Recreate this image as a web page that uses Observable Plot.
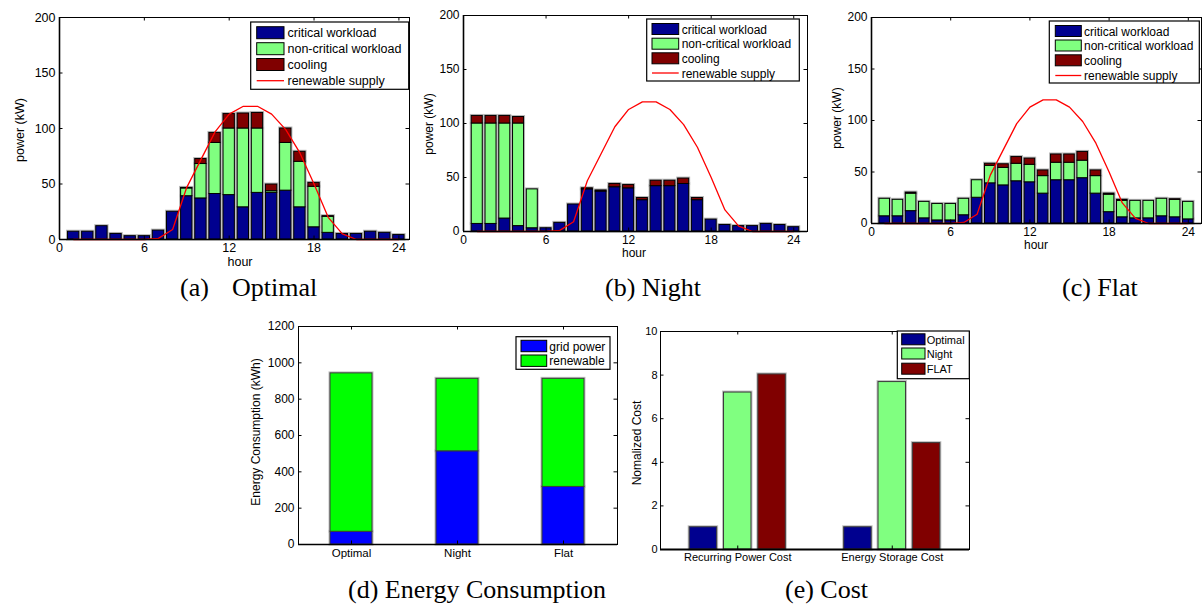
<!DOCTYPE html>
<html><head><meta charset="utf-8">
<script src="https://cdn.jsdelivr.net/npm/d3@7"></script>
<script src="https://cdn.jsdelivr.net/npm/@observablehq/plot@0.6"></script>
<style>
body{margin:0;background:#fff;}
#root{position:relative;width:1204px;height:604px;overflow:hidden;background:#fff;}
.panel{position:absolute;}
#overlay{position:absolute;left:0;top:0;pointer-events:none;}
</style></head><body><div id="root"></div>
<script>
// ---------- data ----------
const hours = d3.range(1, 25);
const hourTicks = [0, 6, 12, 18, 24];
const powerTicks = [0, 50, 100, 150, 200];
const seriesNames = ["critical workload", "non-critical workload", "cooling"];
const seriesColors = ["#00008f", "#80ff80", "#800000"];
const supplyName = "renewable supply";

const criticalWorkload = [7,7,12,5,3,3,8,25,39,37,41,40,29,42,42,44,29,11,6,5,5,7,6,4];
const renewableSupply  = [0,0,0,0,0,0,1,9,47,72,97,113,120,120,113,99,78,50,20,5,0,0,0,0];

const optimalNonCritical = [0,0,0,0,0,0,0,0,7,31,46,60,71,58,1.5,43,41,36.5,14.5,0,0,0,0,0];
const optimalCooling     = [0,0,0,0,0,0,0,0,0.5,4.5,9,13,13.5,14,6,13,9,3.5,0.5,0,0,0,0,0];

const nightNonCritical = [93,93,88,95,36,0,0,0,0,0,0,0,0,0,0,0,0,0,0,0,0,0,0,0];
const nightCooling     = [7,7,7,6,0,0,0,0,1,1,3,3,2,5,5,5,2,0,0,0,0,0,0,0];

const flatNonCritical = [17,16,17,16,16,16,16,17,17,17,17,17,17,17,17,17,17,17,16,17,17,17,17,17];
const flatCooling     = [0,0,1,0,0,0,0,0,2,3.5,6.5,6,5.5,8,8,8.5,5.5,1,1,0,0,0,0.5,0];

const energyCategories = ["Optimal", "Night", "Flat"];
const energySources = ["grid power", "renewable"];
const energyColors = ["#0000ff", "#00ff00"];
const gridPower = [70, 513, 317];
const renewableEnergy = [872, 399, 595];
const energyTicks = [0, 200, 400, 600, 800, 1000, 1200];

const costGroups = ["Recurring Power Cost", "Energy Storage Cost"];
const costSeries = ["Optimal", "Night", "FLAT"];
const costColors = ["#00008f", "#80ff80", "#800000"];
const costOptimal = [1.02, 1.02];
const costNight = [7.2, 7.68];
const costFlat = [8.03, 4.88];
const costTicks = [0, 2, 4, 6, 8, 10];

// ---------- helpers ----------
const root = document.getElementById("root");
const SANS = "'Liberation Sans', Arial, sans-serif";
const TICK = 3.5;
const plain = d => String(d);

function place(node, left, top) {
  const d = document.createElement("div");
  d.className = "panel";
  d.style.left = left + "px";
  d.style.top = top + "px";
  d.appendChild(node);
  root.appendChild(d);
}

function inwardTicks(xTicks, yTicks, fw, fh, xFn, yFn) {
  return [
    Plot.tickX(xTicks, {x: xFn, insetTop: fh - TICK, stroke: "#000"}),
    Plot.tickX(xTicks, {x: xFn, insetBottom: fh - TICK, stroke: "#000"}),
    Plot.tickY(yTicks, {y: yFn, insetRight: fw - TICK, stroke: "#000"}),
    Plot.tickY(yTicks, {y: yFn, insetLeft: fw - TICK, stroke: "#000"})
  ];
}

function hourPanel({left, top, width, height, ml, mr, mt, mb, xMax, nonCritical, cooling, fs}) {
  const rows = [];
  hours.forEach((h, i) => {
    rows.push({hour: h, series: seriesNames[0], value: criticalWorkload[i]});
    rows.push({hour: h, series: seriesNames[1], value: nonCritical[i]});
    rows.push({hour: h, series: seriesNames[2], value: cooling[i]});
  });
  const fw = width - ml - mr, fh = height - mt - mb;
  const half = 0.4;
  const p = Plot.plot({
    width, height, marginLeft: ml, marginRight: mr, marginTop: mt, marginBottom: mb,
    style: {fontFamily: SANS, fontSize: fs + "px", background: "transparent", overflow: "visible", color: "#000"},
    x: {type: "linear", domain: [0, xMax], label: null},
    y: {type: "linear", domain: [0, 200], label: null},
    color: {domain: seriesNames, range: seriesColors},
    marks: [
      Plot.rectY(rows, {x1: d => d.hour - half, x2: d => d.hour + half, y: "value", z: "series", fill: "none", stroke: "#b8b8b8", strokeWidth: 3}),
      Plot.rectY(rows, {x1: d => d.hour - half, x2: d => d.hour + half, y: "value", z: "series", fill: "series", stroke: "#000", strokeWidth: 1}),
      Plot.line(hours, {x: d => d, y: (d, i) => renewableSupply[i], stroke: "#ff0000", strokeWidth: 1.3}),
      Plot.frame({stroke: "#000", strokeWidth: 1}),
      Plot.ruleY([0], {stroke: "#000", strokeWidth: 1.6}),
      Plot.ruleX([0], {stroke: "#000", strokeWidth: 1.6}),
      ...inwardTicks(hourTicks, powerTicks, fw, fh, d => d, d => d),
      Plot.axisX(hourTicks, {tickSize: 0, tickPadding: 4, fontSize: fs, tickFormat: plain}),
      Plot.axisY(powerTicks, {tickSize: 0, tickPadding: 4, fontSize: fs, tickFormat: plain})
    ]
  });
  place(p, left, top);
}

hourPanel({left: 0, top: 0, width: 420, height: 270, ml: 59, mr: 11, mt: 17, mb: 31, xMax: 24.75,
  nonCritical: optimalNonCritical, cooling: optimalCooling, fs: 12.5});
hourPanel({left: 420, top: 0, width: 400, height: 270, ml: 43, mr: 13, mt: 15, mb: 39, xMax: 25,
  nonCritical: nightNonCritical, cooling: nightCooling, fs: 12});
hourPanel({left: 820, top: 0, width: 384, height: 270, ml: 51, mr: 3, mt: 17, mb: 47, xMax: 25,
  nonCritical: flatNonCritical, cooling: flatCooling, fs: 12});

// ---------- (d) energy consumption ----------
{
  const rows = [];
  energyCategories.forEach((c, i) => {
    rows.push({cat: c, source: energySources[0], value: gridPower[i]});
    rows.push({cat: c, source: energySources[1], value: renewableEnergy[i]});
  });
  const width = 400, height = 270, ml = 68, mr = 13, mt = 26, mb = 26;
  const fw = width - ml - mr, fh = height - mt - mb;
  const p = Plot.plot({
    width, height, marginLeft: ml, marginRight: mr, marginTop: mt, marginBottom: mb,
    style: {fontFamily: SANS, fontSize: "12px", background: "transparent", overflow: "visible", color: "#000"},
    x: {type: "band", domain: energyCategories, paddingInner: 0.6, paddingOuter: 0.3, label: null},
    y: {type: "linear", domain: [0, 1200], label: null},
    color: {domain: energySources, range: energyColors},
    marks: [
      Plot.barY(rows, {x: "cat", y: "value", z: "source", fill: "none", stroke: "#c0c0c0", strokeWidth: 3}),
      Plot.barY(rows, {x: "cat", y: "value", z: "source", fill: "source", stroke: "#3a3a3a", strokeWidth: 1}),
      Plot.frame({stroke: "#000", strokeWidth: 1}),
      Plot.ruleY([0], {stroke: "#000", strokeWidth: 1.6}),
      Plot.tickX(energyCategories, {x: d => d, insetBottom: fh - TICK, stroke: "#000"}),
      Plot.tickX(energyCategories, {x: d => d, insetTop: fh - TICK, stroke: "#000"}),
      Plot.tickY(energyTicks, {y: d => d, insetRight: fw - TICK, stroke: "#000"}),
      Plot.tickY(energyTicks, {y: d => d, insetLeft: fw - TICK, stroke: "#000"}),
      Plot.axisX({tickSize: 0, tickPadding: 4, fontSize: 11.5}),
      Plot.axisY(energyTicks, {tickSize: 0, tickPadding: 4, fontSize: 12, tickFormat: plain})
    ]
  });
  place(p, 230, 300);
}

// ---------- (e) cost ----------
{
  const valuesBySeries = [costOptimal, costNight, costFlat];
  const rows = [];
  costGroups.forEach((g, gi) => {
    costSeries.forEach((s, si) => {
      rows.push({group: gi + 1, s: si, series: s, value: valuesBySeries[si][gi]});
    });
  });
  const groupWidth = Math.min(0.8, costSeries.length / (costSeries.length + 1.5));
  const step = groupWidth / costSeries.length;
  const half = step * 0.8 / 2;
  const width = 360, height = 270, ml = 40, mr = 11, mt = 31, mb = 21;
  const fw = width - ml - mr, fh = height - mt - mb;
  const center = d => d.group + (d.s - (costSeries.length - 1) / 2) * step;
  const groupIdx = costGroups.map((g, i) => i + 1);
  const p = Plot.plot({
    width, height, marginLeft: ml, marginRight: mr, marginTop: mt, marginBottom: mb,
    style: {fontFamily: SANS, fontSize: "11px", background: "transparent", overflow: "visible", color: "#000"},
    x: {type: "linear", domain: [0.5, costGroups.length + 0.5], label: null},
    y: {type: "linear", domain: [0, 10], label: null},
    color: {domain: costSeries, range: costColors},
    marks: [
      Plot.rectY(rows, {x1: d => center(d) - half, x2: d => center(d) + half, y: "value", fill: "none", stroke: "#c0c0c0", strokeWidth: 3}),
      Plot.rectY(rows, {x1: d => center(d) - half, x2: d => center(d) + half, y: "value", fill: "series", stroke: "#3a3a3a", strokeWidth: 1}),
      Plot.frame({stroke: "#000", strokeWidth: 1}),
      Plot.ruleY([0], {stroke: "#000", strokeWidth: 1.8}),
      ...inwardTicks(groupIdx, costTicks, fw, fh, d => d, d => d),
      Plot.axisX(groupIdx, {tickSize: 0, tickPadding: 4, fontSize: 11, tickFormat: d => costGroups[d - 1]}),
      Plot.axisY(costTicks, {tickSize: 0, tickPadding: 3, fontSize: 11, tickFormat: plain})
    ]
  });
  place(p, 620, 300);
}

// ---------- overlay: labels, legends, captions ----------
const NS = "http://www.w3.org/2000/svg";
const ov = document.createElementNS(NS, "svg");
ov.setAttribute("id", "overlay");
ov.setAttribute("width", 1204);
ov.setAttribute("height", 604);
root.appendChild(ov);

function el(tag, attrs, text) {
  const e = document.createElementNS(NS, tag);
  for (const k in attrs) e.setAttribute(k, attrs[k]);
  if (text != null) e.textContent = text;
  ov.appendChild(e);
  return e;
}
function label(x, y, str, size, opts = {}) {
  const a = {x, y, "font-family": opts.family || SANS, "font-size": size, fill: "#000",
    "text-anchor": opts.anchor || "middle", "dominant-baseline": opts.baseline || "central",
    style: "white-space:pre"};
  if (opts.rotate) a.transform = `rotate(-90 ${x} ${y})`;
  return el("text", a, str);
}
function legend(box, rowsY, swX1, swX2, swH, txtX, size, entries) {
  el("rect", {x: box[0], y: box[1], width: box[2] - box[0], height: box[3] - box[1], fill: "#fff", stroke: "#000", "stroke-width": 1.2});
  entries.forEach((e, i) => {
    const cy = rowsY[i];
    if (e.type === "line") {
      el("line", {x1: swX1, x2: swX2, y1: cy, y2: cy, stroke: e.color, "stroke-width": 1.3});
    } else {
      el("rect", {x: swX1, y: cy - swH / 2, width: swX2 - swX1, height: swH, fill: e.color, stroke: "#000", "stroke-width": 1});
    }
    label(txtX, cy + 0.5, e.label, size, {anchor: "start"});
  });
}

const hourEntries = seriesNames.map((n, i) => ({label: n, color: seriesColors[i]}))
  .concat([{label: supplyName, color: "#ff0000", type: "line"}]);

// axis titles
label(240, 262, "hour", 12.5);
label(20, 130, "power (kW)", 12.5, {rotate: true});
label(634, 253, "hour", 12);
label(429, 124, "power (kW)", 12, {rotate: true});
label(1036, 245, "hour", 12);
label(836.5, 118, "power (kW)", 12, {rotate: true});
label(256, 432, "Energy Consumption (kWh)", 12, {rotate: true});
label(637, 443, "Nomalized Cost", 12, {rotate: true});

// legends
legend([250.7, 22, 408.7, 89.3], [32.7, 48.7, 64.5, 80.7], 256.7, 284, 12, 287.5, 12.5, hourEntries);
legend([646.7, 19, 799.3, 81], [29, 43.7, 58.3, 73], 652, 678.7, 11, 681.7, 12, hourEntries);
legend([1049.3, 21, 1199.3, 83], [31, 45.5, 60.3, 75.5], 1055.3, 1081.3, 11, 1084, 12, hourEntries);
legend([516, 336.7, 610, 369.3], [346, 360.7], 521, 546.7, 11.4, 549.3, 12,
  energySources.map((n, i) => ({label: n, color: energyColors[i]})));
legend([897.3, 331, 969.3, 378.7], [339.3, 353.5, 368.7], 901.7, 925, 11, 926.7, 11,
  costSeries.map((n, i) => ({label: n, color: costColors[i]})));

// captions
const SERIF = "'Liberation Serif', 'Times New Roman', serif";
label(180, 296, "(a)", 26, {anchor: "start", baseline: "alphabetic", family: SERIF});
label(232, 296, "Optimal", 26, {anchor: "start", baseline: "alphabetic", family: SERIF});
label(605, 296, "(b) Night", 26, {anchor: "start", baseline: "alphabetic", family: SERIF});
label(1062, 296, "(c) Flat", 26, {anchor: "start", baseline: "alphabetic", family: SERIF});
label(348, 598, "(d) Energy Consumption", 26, {anchor: "start", baseline: "alphabetic", family: SERIF});
label(785, 598, "(e) Cost", 26, {anchor: "start", baseline: "alphabetic", family: SERIF});
</script>
</body></html>
